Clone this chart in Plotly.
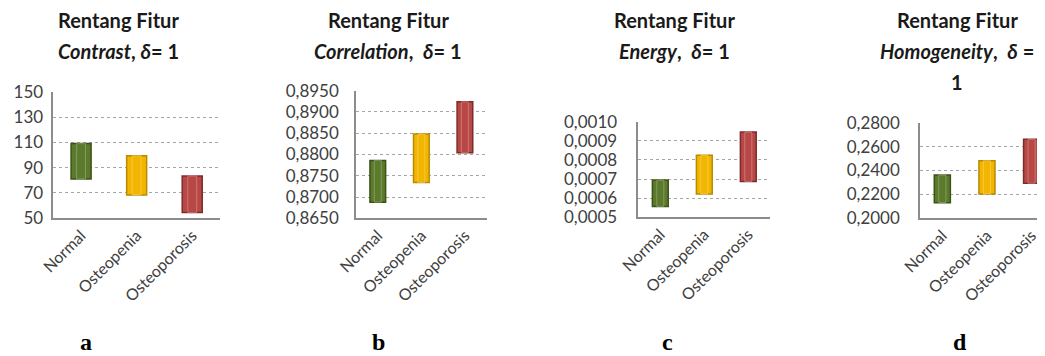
import plotly.graph_objects as go

categories = ["Normal", "Osteopenia", "Osteoporosis"]
colors = ["#5b7a2b", "#f2b600", "#b84846"]
edge_colors = ["#3b5218", "#b88a00", "#7e2b29"]

# panel a: Contrast
contrast_low = [81, 68.5, 54.5]
contrast_high = [109, 99.5, 83.5]
# panel b: Correlation
correlation_low = [0.8688, 0.8734, 0.8804]
correlation_high = [0.8786, 0.8848, 0.8924]
# panel c: Energy
energy_low = [0.000556, 0.000622, 0.000687]
energy_high = [0.000695, 0.000824, 0.000946]
# panel d: Homogeneity
homog_low = [0.2131, 0.2204, 0.2293]
homog_high = [0.2363, 0.2482, 0.2661]

OFF = 8  # page body margin
W, H = 1045 - OFF, 356 - OFF


def px(x):
    return (x - OFF) / W


def py(y):
    return 1 - (y - OFF) / H


panels = [
    dict(low=contrast_low, high=contrast_high, yr=[50, 150], dtick=20, fmt="d",
         x=(53.3, 220), y=(91.7, 218.3), xr=[-0.5, 2.5], standoff=5,
         title=["Rentang Fitur", "<b><i>Contrast</i>, <i>δ</i>= 1</b>"], tx=118, letter="a", lx=86),
    dict(low=correlation_low, high=correlation_high, yr=[0.865, 0.895], dtick=0.005, fmt=".4f",
         x=(356, 486.7), y=(90.7, 218.3), xr=[-0.5, 2.5], standoff=12,
         title=["Rentang Fitur", "<b><i>Correlation</i>,  <i>δ</i>= 1</b>"], tx=388, letter="b", lx=378),
    dict(low=energy_low, high=energy_high, yr=[0.0005, 0.0010], dtick=0.0001, fmt=".4f",
         x=(638.3, 770.3), y=(121.7, 217.3), xr=[-0.5, 2.5], standoff=16,
         title=["Rentang Fitur", "<b><i>Energy</i>,  <i>δ</i>= 1</b>"], tx=674, letter="c", lx=667),
    dict(low=homog_low, high=homog_high, yr=[0.2, 0.28], dtick=0.02, fmt=".4f",
         x=(920, 1045), y=(122.7, 218.3), xr=[-0.5, 2.3], standoff=15,
         title=["Rentang Fitur", "<b><i>Homogeneity</i>,  <i>δ</i> =</b>", "<b>1</b>"], tx=957, letter="d", lx=960),
]

fig = go.Figure()
annotations = []
title_font = dict(family="Lato", size=20, color="#1a1a1a")
for i, p in enumerate(panels):
    n = "" if i == 0 else str(i + 1)
    xa, ya = "x" + n, "y" + n
    base = p["low"]
    span = [h - l for h, l in zip(p["high"], p["low"])]
    fig.add_trace(go.Bar(
        x=categories, y=span, base=base, xaxis=xa, yaxis=ya, width=0.36,
        marker=dict(color=colors, line=dict(color=edge_colors, width=1.5)),
        showlegend=False, hoverinfo="skip"))
    fig.add_trace(go.Bar(
        x=categories, y=span, base=base, xaxis=xa, yaxis=ya, width=0.16,
        marker=dict(color=colors, line=dict(color="rgba(255,255,255,0.25)", width=1)),
        showlegend=False, hoverinfo="skip"))
    fig.layout["xaxis" + n] = dict(
        domain=[px(p["x"][0]), min(px(p["x"][1]), 1)], anchor=ya, range=p["xr"],
        automargin=False,
        showline=True, linecolor="#8c8c8c", linewidth=1.5, ticks="", showgrid=False,
        tickangle=-45, tickfont=dict(family="Lato", size=16, color="#404040"), fixedrange=True)
    fig.layout["yaxis" + n] = dict(
        domain=[py(p["y"][1]), py(p["y"][0])], anchor=xa, range=p["yr"],
        automargin=False,
        dtick=p["dtick"], tick0=p["yr"][0], tickformat=p["fmt"],
        showline=True, linecolor="#8c8c8c", linewidth=1.5, ticks="",
        showgrid=True, gridcolor="#a6a6a6", griddash="dot", gridwidth=1,
        ticklabelstandoff=p["standoff"], zeroline=False,
        tickfont=dict(family="Lato", size=17, color="#404040"), fixedrange=True)
    for j, t in enumerate(p["title"]):
        txt = t if t.startswith("<b>") else "<b>" + t + "</b>"
        annotations.append(dict(text=txt, x=px(p["tx"]), y=py(20 + 31 * j),
                                xref="paper", yref="paper", showarrow=False,
                                xanchor="center", yanchor="middle", font=title_font))
    annotations.append(dict(text="<b>" + p["letter"] + "</b>", x=px(p["lx"]), y=py(342),
                            xref="paper", yref="paper", showarrow=False,
                            xanchor="center", yanchor="middle",
                            font=dict(family="Liberation Serif", size=24, color="#000000")))

fig.update_layout(
    width=W, height=H, margin=dict(l=0, r=0, t=0, b=0, autoexpand=False),
    paper_bgcolor="white", plot_bgcolor="white",
    separators=",.", barmode="overlay", annotations=annotations)

fig.write_html("out.html")
